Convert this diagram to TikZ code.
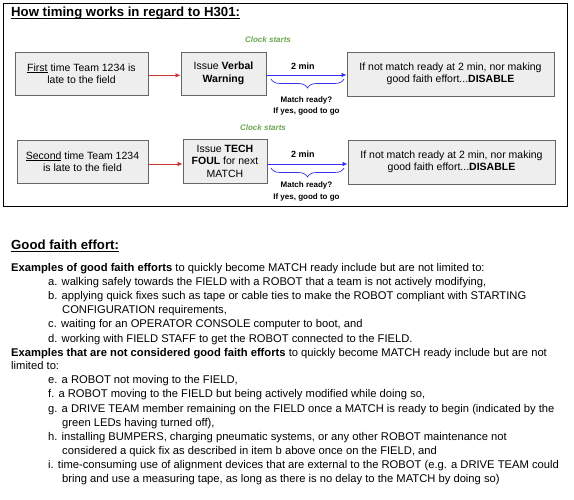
\documentclass[tikz,border=0pt]{standalone}
\usepackage{fontspec}
\setmainfont{Liberation Sans}
\usetikzlibrary{arrows.meta,decorations.pathreplacing}
\definecolor{boxgray}{HTML}{EEEEEE}
\definecolor{edgegray}{HTML}{666666}
\definecolor{arrred}{HTML}{CC3333}
\definecolor{arrblue}{HTML}{3333EE}
\definecolor{clockgreen}{HTML}{6AA84F}

\begin{document}
\begin{tikzpicture}[x=1pt,y=-1pt,
    stepbox/.style={draw=edgegray,fill=boxgray,line width=0.9pt,inner sep=0pt,align=center,
        font=\fontsize{10.5}{12.5}\selectfont},
    clock/.style={text=clockgreen,inner sep=0pt,font=\fontsize{8}{9}\selectfont\bfseries\itshape},
    lbl/.style={inner sep=0pt,align=center,font=\fontsize{8}{11.5}\selectfont\bfseries},
    head/.style={anchor=base west,inner sep=0pt,font=\fontsize{13.2}{15}\selectfont\bfseries},
    body/.style={anchor=base west,inner sep=0pt,font=\fontsize{11.2}{14}\selectfont},
    redarr/.style={draw=arrred,line width=0.7pt,-{Latex[length=5pt,width=4.5pt]}},
    bluearr/.style={draw=arrblue,line width=0.8pt,-{Latex[length=5pt,width=4.5pt]}},
    bluebrace/.style={draw=arrblue,line width=0.7pt,decorate,decoration={brace,mirror,amplitude=9pt}}]
    \useasboundingbox (0,0) rectangle (574,500);

    % timing frame
    \draw[line width=0.8pt] (3.5,3) rectangle (567,206.5);
    \node[head] (title) at (11,16.8) {How timing works in regard to H301:};
    \draw[line width=1.2pt] ([yshift=-1.8pt]title.base west) -- ([yshift=-1.8pt]title.base east);

    % first time
    \node[stepbox,minimum width=133,minimum height=43] (late1) at (81.5,73.5)
        {\underline{First} time Team 1234 is\\late to the field};
    \node[stepbox,minimum width=85,minimum height=43] (warn1) at (223.5,73.5)
        {Issue \textbf{Verbal}\\\textbf{Warning}};
    \node[stepbox,minimum width=207,minimum height=44] (dis1) at (450.5,74)
        {If not match ready at 2 min, nor making\\good faith effort...\textbf{DISABLE}};
    \node[clock] (clock1) at (268,40) {Clock starts};
    \node[lbl] (min1) at (303,66) {\fontsize{9}{10}\selectfont 2 min};
    \node[lbl] (ready1) at (306.5,106) {Match ready?\\If yes, good to go};
    \draw[redarr] ([yshift=-1.8pt]late1.east) -- ([yshift=-1.8pt]late1.east -| warn1.west);
    \draw[bluearr] ([yshift=-1.5pt]warn1.east) -- ([yshift=-1.5pt]warn1.east -| dis1.west);
    \draw[bluebrace] (271,79) -- (344,79);

    % second time
    \node[stepbox,minimum width=131,minimum height=43] (late2) at (82.5,161.5)
        {\underline{Second} time Team 1234\\is late to the field};
    \node[stepbox,minimum width=84,minimum height=44] (foul2) at (225,161)
        {Issue \textbf{TECH}\\\textbf{FOUL} for next\\MATCH};
    \node[stepbox,minimum width=207,minimum height=44] (dis2) at (451.5,162)
        {If not match ready at 2 min, nor making\\good faith effort...\textbf{DISABLE}};
    \node[clock] (clock2) at (263,128) {Clock starts};
    \node[lbl] (min2) at (303,154) {\fontsize{9}{10}\selectfont 2 min};
    \node[lbl] (ready2) at (306.5,191.5) {Match ready?\\If yes, good to go};
    \draw[redarr] ([yshift=-2.5pt]late2.east) -- ([yshift=-2.5pt]late2.east -| foul2.west);
    \draw[bluearr] ([yshift=-3pt]foul2.east) -- ([yshift=-3pt]foul2.east -| dis2.west);
    \draw[bluebrace] (271,168) -- (344,168);

    % good faith effort
    \node[head] (faith) at (11,249.5) {Good faith effort:};
    \draw[line width=1.2pt] ([yshift=-1.8pt]faith.base west) -- ([yshift=-1.8pt]faith.base east);
    \node[body] (ex1) at (11,272) {\textbf{Examples of good faith efforts} to quickly become MATCH ready include but are not limited to:};
    \node[body] (ia) at (48,286) {a. walking safely towards the FIELD with a ROBOT that a team is not actively modifying,};
    \node[body] (ib) at (48,300) {b. applying quick fixes such as tape or cable ties to make the ROBOT compliant with STARTING};
    \node[body] (ib2) at (62,314) {CONFIGURATION requirements,};
    \node[body] (ic) at (48,328) {c. waiting for an OPERATOR CONSOLE computer to boot, and};
    \node[body] (id) at (48,342) {d. working with FIELD STAFF to get the ROBOT connected to the FIELD.};
    \node[body] (ex2) at (11,356) {\textbf{Examples that are not considered good faith efforts} to quickly become MATCH ready include but are not};
    \node[body] (ex2b) at (11,370) {limited to:};
    \node[body] (ie) at (48,384) {e. a ROBOT not moving to the FIELD,};
    \node[body] (if) at (48,398) {f. a ROBOT moving to the FIELD but being actively modified while doing so,};
    \node[body] (ig) at (48,412) {g. a DRIVE TEAM member remaining on the FIELD once a MATCH is ready to begin (indicated by the};
    \node[body] (ig2) at (62,426) {green LEDs having turned off),};
    \node[body] (ih) at (48,440) {h. installing BUMPERS, charging pneumatic systems, or any other ROBOT maintenance not};
    \node[body] (ih2) at (62,454) {considered a quick fix as described in item b above once on the FIELD, and};
    \node[body] (ii) at (48,468) {i. time-consuming use of alignment devices that are external to the ROBOT (e.g. a DRIVE TEAM could};
    \node[body] (ii2) at (62,482) {bring and use a measuring tape, as long as there is no delay to the MATCH by doing so)};
\end{tikzpicture}
\end{document}
